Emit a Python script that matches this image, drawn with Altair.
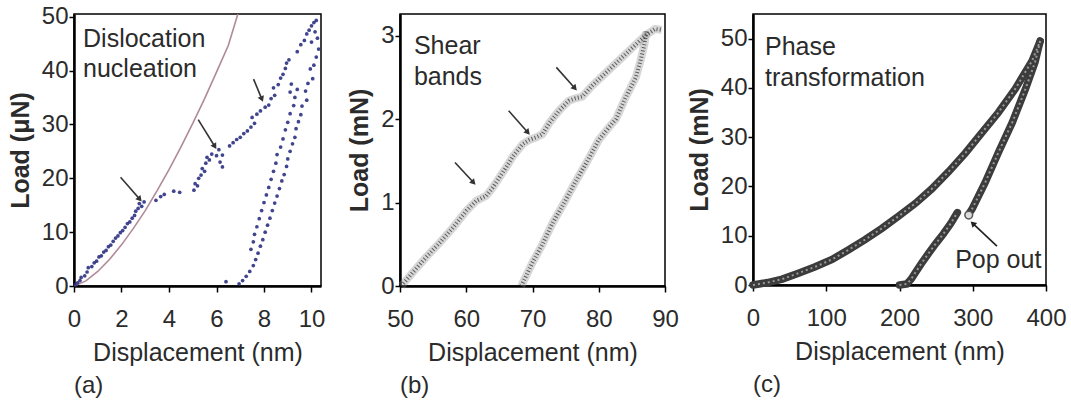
import math
import altair as alt
import pandas as pd

FONT = "Liberation Sans"
TXT = "#2b2b2b"

# ---------------- (a) Dislocation nucleation ----------------
a_dots_x = [0.05, 0.15, 0.25, 0.3, 0.45, 0.55, 0.6, 0.75, 0.85, 0.95, 1.05, 1.15, 1.25, 1.35, 1.45, 1.55, 1.65, 1.75,
            1.85, 1.95, 2.05, 2.15, 2.25, 2.35, 2.45, 2.55, 2.6, 2.7, 2.75, 2.85, 2.95,
            3.45, 3.65, 3.8, 4.2, 4.45,
            5.05, 5.1, 5.2, 5.25, 5.35, 5.4, 5.5, 5.55, 5.6, 5.7, 5.8, 6.0, 6.1, 6.15, 6.25, 6.25,
            6.55, 6.7, 6.85, 7.0, 7.15, 7.3, 7.45, 7.6, 7.5, 7.7, 7.85, 8.05, 8.2, 8.3, 8.45, 8.4, 8.6, 8.7, 8.8,
            8.9, 8.95, 9.05, 9.1, 9.15,
            9.4, 9.55, 9.7, 9.8, 9.9, 10.0, 10.1, 10.2, 10.15, 10.25, 10.0,
            10.3, 10.2, 10.1, 9.95, 10.05, 9.85, 9.75, 9.8, 9.6, 9.55, 9.45, 9.35, 9.3, 9.2, 9.1, 9.0, 8.95, 8.85,
            8.75, 8.65, 8.55, 8.45, 8.35, 8.25, 8.15, 8.05, 7.95, 7.85, 7.75, 7.65, 7.55, 7.4, 7.25, 7.1, 6.95, 6.4,
            9.4, 9.3, 9.25, 9.1, 9.0, 8.9, 8.8, 8.7, 8.55, 8.5, 8.4, 8.3, 8.2, 8.1, 8.0, 7.9, 7.8, 7.7, 7.6, 7.55, 7.45]
a_dots_y = [0.2, 0.6, 1.0, 1.6, 1.9, 2.6, 3.4, 3.6, 4.3, 4.6, 5.4, 5.6, 6.3, 6.6, 7.3, 7.6, 8.3, 8.9,
            9.3, 9.9, 10.3, 10.9, 11.6, 11.9, 12.6, 13.1, 13.9, 14.4, 15.3, 14.8, 15.6,
            15.9, 16.6, 17.0, 17.6, 17.4,
            17.8, 19.0, 18.6, 20.0, 20.6, 21.8, 21.3, 22.8, 23.9, 23.4, 24.5, 24.2, 25.3, 23.0, 22.1, 24.3,
            26.0, 26.6, 27.2, 27.6, 28.3, 28.8, 29.5, 30.2, 31.3, 31.9, 32.5, 33.2, 33.6, 34.8, 35.4, 36.8, 37.4, 38.6, 39.3,
            40.4, 41.4, 42.0, 36.0, 37.5,
            43.5, 44.8, 45.6, 46.8, 47.5, 48.3, 48.9, 49.3, 47.2, 46.0, 45.3,
            44.0, 42.5, 41.0, 40.3, 38.5, 37.6, 36.2, 34.5, 33.4, 31.8, 30.5, 29.2, 27.6, 26.4, 25.0, 23.6, 22.2, 20.7,
            19.5, 18.1, 16.7, 15.4, 14.0, 12.6, 11.3, 10.0, 8.6, 7.4, 6.1, 4.9, 3.8, 2.7, 1.8, 1.0, 0.4, 0.8,
            36.5, 35.0, 33.5, 32.0, 30.4, 29.0, 27.3, 25.8, 24.4, 22.8, 21.3, 19.8, 18.3, 16.9, 15.5, 14.0, 12.5, 11.0, 9.6, 8.2, 6.8]
a_curve_x = [0, 0.5, 1, 1.5, 2, 2.5, 3, 3.5, 4, 4.5, 5, 5.5, 6, 6.5, 6.9]
a_curve_y = [0, 0.95, 2.7, 4.96, 7.64, 10.7, 14.0, 17.7, 21.6, 25.8, 30.2, 34.8, 39.7, 44.7, 50.5]
a_arrow_x1 = [1.96, 5.23, 7.56]
a_arrow_y1 = [20.2, 30.9, 38.4]
a_arrow_x2 = [2.77, 5.93, 7.91]
a_arrow_y2 = [16.1, 25.9, 34.7]
a_text = ["Dislocation", "nucleation"]
a_text_x = [0.38, 0.38]
a_text_y = [45.9, 40.2]

# ---------------- (b) Shear bands ----------------
b_load_x = [50.2, 52, 54, 56, 58, 60, 61.5, 63, 64, 65, 66, 67, 68.5, 69.5, 70.5, 71.5, 72.5, 74, 75.5, 76.5,
            77.5, 79, 81, 83, 85, 87, 88.5, 89.5]
b_load_y = [0, 0.17, 0.35, 0.52, 0.7, 0.9, 1.02, 1.08, 1.18, 1.3, 1.42, 1.55, 1.7, 1.75, 1.78, 1.82, 1.95, 2.1,
            2.22, 2.25, 2.27, 2.4, 2.55, 2.7, 2.85, 3.0, 3.08, 3.07]
b_unload_x = [68.3, 70, 71.5, 73, 74.8, 76.5, 78.3, 80, 81.5, 82.6, 84, 85.6, 86.3, 86.9, 87.2]
b_unload_y = [0, 0.28, 0.5, 0.75, 1.0, 1.25, 1.5, 1.75, 1.9, 2.0, 2.25, 2.5, 2.7, 2.9, 3.05]
b_arrow_x1 = [58.3, 66.4, 73.6]
b_arrow_y1 = [1.48, 2.1, 2.62]
b_arrow_x2 = [61.1, 69.3, 76.4]
b_arrow_y2 = [1.24, 1.84, 2.37]
b_text = ["Shear", "bands"]
b_text_x = [52.1, 52.1]
b_text_y = [2.88, 2.51]

# ---------------- (c) Phase transformation ----------------
c_load_x = [0, 20, 40, 62, 85, 108, 130, 153, 176, 199, 222, 244, 267, 290, 312, 335, 358, 381, 392]
c_load_y = [0, 0.5, 1.2, 2.4, 3.7, 5.2, 7.1, 9.2, 11.5, 14.0, 16.6, 19.5, 23.0, 26.8, 30.8, 35.0, 39.8, 45.5, 49.5]
c_unload_hi_x = [392, 385, 372, 354, 335, 317, 299, 295]
c_unload_hi_y = [49.5, 45.2, 39.8, 33.0, 26.9, 20.8, 15.4, 14.5]
c_unload_lo_x = [200, 210, 216, 222, 230, 240, 250, 260, 270, 279]
c_unload_lo_y = [0, 0.2, 1.2, 2.6, 4.4, 6.5, 8.5, 10.4, 12.5, 14.7]
c_pop_x = [294.5]
c_pop_y = [14.2]
c_arrow_x1 = [333]
c_arrow_y1 = [7.9]
c_arrow_x2 = [300]
c_arrow_y2 = [12.5]
c_text = ["Phase", "transformation", "Pop out"]
c_text_x = [16.4, 16.4, 276]
c_text_y = [48.4, 42.1, 5.1]


def X(field, dom, ticks):
    return alt.X(field, type="quantitative", scale=alt.Scale(domain=dom, nice=False, zero=False),
                 axis=alt.Axis(title="Displacement (nm)", values=ticks, format="d", labelFlush=False))


def Y(field, dom, ticks, title):
    return alt.Y(field, type="quantitative", scale=alt.Scale(domain=dom, nice=False, zero=False),
                 axis=alt.Axis(title=title, values=ticks, format="d", labelFlush=False))


def arrows(x1, y1, x2, y2, w, h, xd, yd, xt, yt, yttl, color="#333"):
    sx = w / (xd[1] - xd[0])
    sy = h / (yd[1] - yd[0])
    ang = []
    for i in range(len(x1)):
        dx = (x2[i] - x1[i]) * sx
        dys = -(y2[i] - y1[i]) * sy
        ang.append(math.degrees(math.atan2(dx, -dys)) % 360)
    df = pd.DataFrame({"x1": x1, "y1": y1, "x2": x2, "y2": y2, "ang": ang})
    rule = alt.Chart(df).mark_rule(color=color, strokeWidth=1.6).encode(
        x=X("x1", xd, xt), y=Y("y1", yd, yt, yttl), x2="x2", y2="y2")
    head = alt.Chart(df).mark_point(shape="triangle-up", filled=True, color=color, size=45, opacity=1).encode(
        x=X("x2", xd, xt), y=Y("y2", yd, yt, yttl), angle=alt.Angle("ang:Q", scale=None))
    return rule, head


def texts(t, x, y, xd, yd, xt, yt, yttl):
    df = pd.DataFrame({"t": t, "x": x, "y": y})
    return alt.Chart(df).mark_text(align="left", baseline="middle", fontSize=25, font=FONT, color=TXT).encode(
        x=X("x", xd, xt), y=Y("y", yd, yt, yttl), text="t:N")


def lbl(s):
    return alt.TitleParams(s, orient="bottom", anchor="start", frame="group", fontSize=24,
                           fontWeight="normal", font=FONT, color=TXT, offset=9)


# ---- panel (a)
aw, ah, axd, ayd = 247, 272, [0, 10.4], [0, 50.5]
axt, ayt = [0, 2, 4, 6, 8, 10], [0, 10, 20, 30, 40, 50]
at = "Load (μN)"
a_curve = alt.Chart(pd.DataFrame({"x": a_curve_x, "y": a_curve_y})).mark_line(
    color="#b08a96", strokeWidth=1.6, clip=True).encode(
    x=X("x", axd, axt), y=Y("y", ayd, ayt, at))
a_pts = alt.Chart(pd.DataFrame({"x": a_dots_x, "y": a_dots_y})).mark_circle(
    color="#2c3182", size=14, opacity=0.9).encode(
    x=X("x", axd, axt), y=Y("y", ayd, ayt, at))
ar, ah_ = arrows(a_arrow_x1, a_arrow_y1, a_arrow_x2, a_arrow_y2, aw, ah, axd, ayd, axt, ayt, at)
pa = alt.layer(a_curve, a_pts, ar, ah_, texts(a_text, a_text_x, a_text_y, axd, ayd, axt, ayt, at)).properties(
    width=aw, height=ah, title=lbl("(a)"))

# ---- panel (b)
bw, bh, bxd, byd = 265, 272, [50, 90], [0, 3.26]
bxt, byt = [50, 60, 70, 80, 90], [0, 1, 2, 3]
bt = "Load (mN)"
b_df = pd.concat([
    pd.DataFrame({"x": b_load_x, "y": b_load_y, "seg": "load", "i": range(len(b_load_x))}),
    pd.DataFrame({"x": b_unload_x, "y": b_unload_y, "seg": "unload", "i": range(len(b_unload_x))}),
])
b_band = alt.Chart(b_df).mark_line(color="#8c8c8c", strokeWidth=8, opacity=0.35).encode(
    x=X("x", bxd, bxt), y=Y("y", byd, byt, bt), detail="seg:N", order="i:Q")
b_dots = alt.Chart(b_df).mark_line(color="#333", strokeWidth=4, strokeDash=[1, 2.2], opacity=0.75).encode(
    x=X("x", bxd, bxt), y=Y("y", byd, byt, bt), detail="seg:N", order="i:Q")
br, bh_ = arrows(b_arrow_x1, b_arrow_y1, b_arrow_x2, b_arrow_y2, bw, bh, bxd, byd, bxt, byt, bt)
pb = alt.layer(b_band, b_dots, br, bh_, texts(b_text, b_text_x, b_text_y, bxd, byd, bxt, byt, bt)).properties(
    width=bw, height=bh, title=lbl("(b)"))

# ---- panel (c)
cw, ch, cxd, cyd = 293, 271, [0, 400], [0, 55]
cxt, cyt = [0, 100, 200, 300, 400], [0, 10, 20, 30, 40, 50]
ct = "Load (mN)"
c_df = pd.concat([
    pd.DataFrame({"x": c_load_x, "y": c_load_y, "seg": "load", "i": range(len(c_load_x))}),
    pd.DataFrame({"x": c_unload_hi_x, "y": c_unload_hi_y, "seg": "hi", "i": range(len(c_unload_hi_x))}),
    pd.DataFrame({"x": c_unload_lo_x, "y": c_unload_lo_y, "seg": "lo", "i": range(len(c_unload_lo_x))}),
])
c_band = alt.Chart(c_df).mark_line(color="#3c3c3c", strokeWidth=7.5, strokeCap="round").encode(
    x=X("x", cxd, cxt), y=Y("y", cyd, cyt, ct), detail="seg:N", order="i:Q")
c_tex = alt.Chart(c_df).mark_line(color="#9a9a9a", strokeWidth=2, strokeDash=[2, 3]).encode(
    x=X("x", cxd, cxt), y=Y("y", cyd, cyt, ct), detail="seg:N", order="i:Q")
c_pop = alt.Chart(pd.DataFrame({"x": c_pop_x, "y": c_pop_y})).mark_point(
    shape="circle", filled=True, fill="#dcdcdc", stroke="#555", strokeWidth=1.5, size=60, opacity=1).encode(
    x=X("x", cxd, cxt), y=Y("y", cyd, cyt, ct))
cr, chh = arrows(c_arrow_x1, c_arrow_y1, c_arrow_x2, c_arrow_y2, cw, ch, cxd, cyd, cxt, cyt, ct, color="#222")
pc = alt.layer(c_band, c_tex, c_pop, cr, chh, texts(c_text, c_text_x, c_text_y, cxd, cyd, cxt, cyt, ct)).properties(
    width=cw, height=ch, title=lbl("(c)"))

chart = alt.hconcat(alt.hconcat(pa, pb, spacing=20), pc, spacing=6).properties(
    padding={"left": 7, "top": 3, "right": 2, "bottom": 0}
).configure_view(stroke="black", strokeWidth=1.5).configure_axis(
    grid=False, domainColor="black", domainWidth=2.5, tickColor="black", tickWidth=1.5, tickSize=6,
    labelFont=FONT, titleFont=FONT, labelColor=TXT, titleColor=TXT, labelFontSize=24, titleFontSize=25,
    titleFontWeight="normal"
).configure_axisY(titleFontWeight="bold", titleFontSize=25, labelPadding=1, tickSize=5, titlePadding=8
).configure_axisX(labelPadding=15, titlePadding=9)

chart.save("out.html", embed_options={"renderer": "svg", "actions": False})
